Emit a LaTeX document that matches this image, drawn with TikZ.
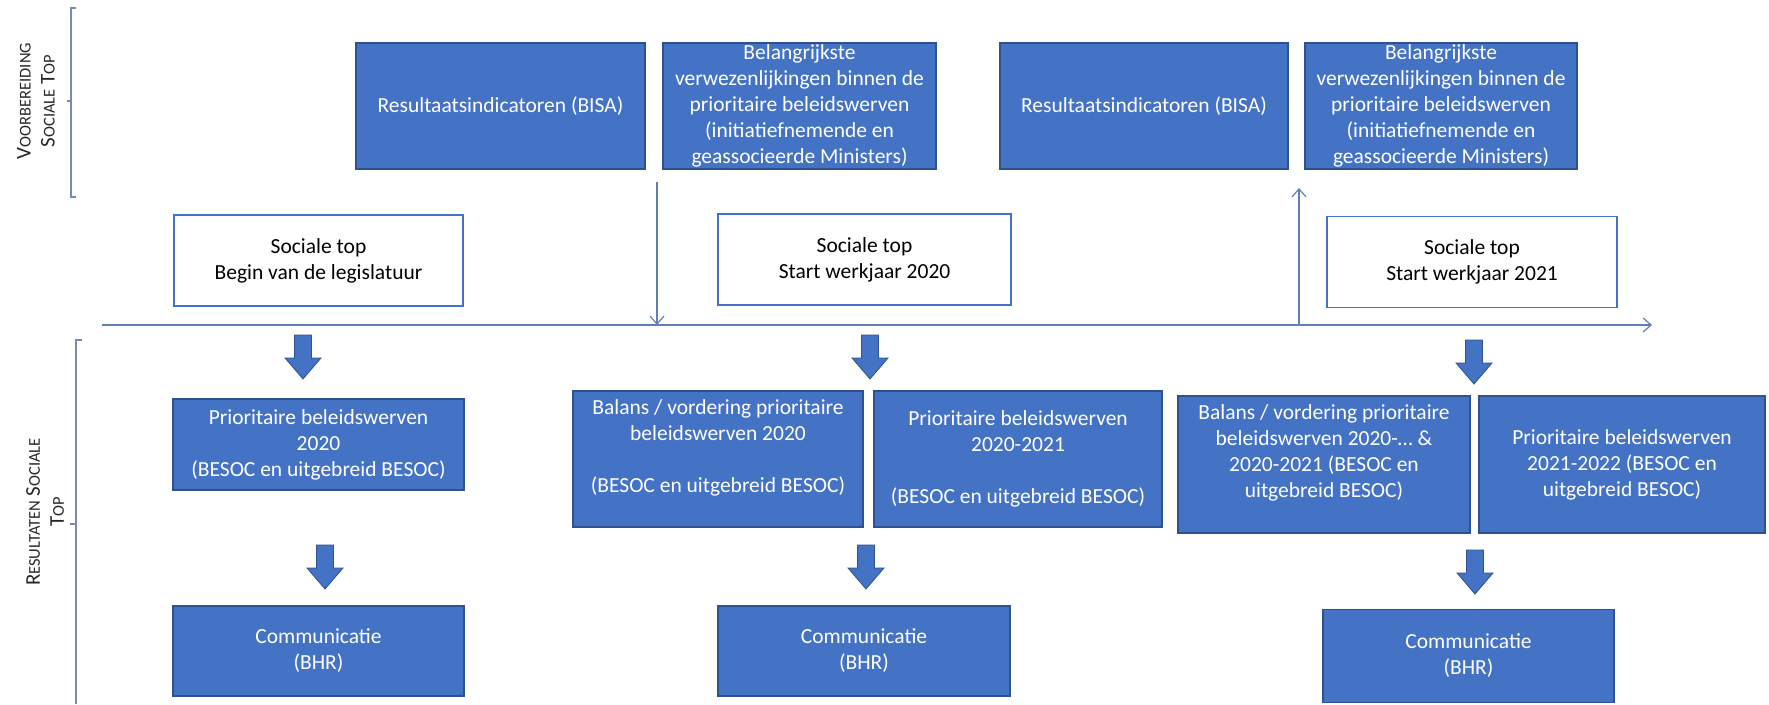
\documentclass[tikz,border=0pt]{standalone}
\usepackage{fontspec}
\setmainfont{Carlito}
\usetikzlibrary{arrows.meta}
\definecolor{boxblue}{HTML}{4472C4}
\definecolor{boxedge}{HTML}{2F528F}
\definecolor{linecol}{RGB}{96,128,180}
\definecolor{brackcol}{RGB}{120,140,170}
\newcommand{\smc}[1]{{\fontsize{16.5}{20}\selectfont #1}}
\tikzset{
  txt/.style={font=\fontsize{21.5}{26}\selectfont, align=center, inner sep=0pt},
  bluebox/.style={txt, draw=boxedge, fill=boxblue, text=white, line width=1.2pt},
  whitebox/.style={txt, draw=boxblue, fill=white, text=black, line width=1.8pt},
  tline/.style={draw=linecol, line width=1.3pt},
  barbend/.style={-{Straight Barb[length=8pt,width=14pt,line width=1.2pt]}},
  brack/.style={draw=brackcol, line width=1.1pt},
  sidelabel/.style={rotate=90, align=center, inner sep=0pt, text=black!85,
    font=\fontsize{21}{24}\selectfont},
  blockdown/.pic={\filldraw[fill=boxblue, draw=boxedge, line width=0.8pt]
    (-8.5,0) -- (8.5,0) -- (8.5,23) -- (18,23) -- (0,44) -- (-18,23) -- (-8.5,23) -- cycle;}
}
\begin{document}
\begin{tikzpicture}[x=1pt,y=-1pt]
\useasboundingbox (0,0) rectangle (1769,704);

% side brackets and labels
\draw[brack] (76,8) -- (71,8) -- (71,197) -- (76,197);
\draw[brack] (71,101) -- (67,101);
\draw[brack] (82,340) -- (76,340) -- (76,704);
\draw[brack] (76,524) -- (70,524);
\node[sidelabel] (lab1) at (36,101) {V\smc{OORBEREIDING}\\S\smc{OCIALE} T\smc{OP}};
\node[sidelabel] (lab2) at (45,512) {R\smc{ESULTATEN} S\smc{OCIALE}\\T\smc{OP}};

% top row
\node[bluebox, minimum width=289, minimum height=126] (R1) at (500.5,106) {Resultaatsindicatoren (BISA)};
\node[bluebox, minimum width=273, minimum height=126] (B1) at (799.5,106) {Belangrijkste\\verwezenlijkingen binnen de\\prioritaire beleidswerven\\(initiatiefnemende en\\geassocieerde Ministers)};
\node[bluebox, minimum width=288, minimum height=126] (R2) at (1144,106) {Resultaatsindicatoren (BISA)};
\node[bluebox, minimum width=272, minimum height=126] (B2) at (1441,106) {Belangrijkste\\verwezenlijkingen binnen de\\prioritaire beleidswerven\\(initiatiefnemende en\\geassocieerde Ministers)};

% social summit boxes
\node[whitebox, minimum width=289, minimum height=91] (S1) at (318.5,260.5) {Sociale top\\Begin van de legislatuur};
\node[whitebox, minimum width=293, minimum height=91] (S2) at (864.5,259.5) {Sociale top\\Start werkjaar 2020};
\node[whitebox, minimum width=290, minimum height=91] (S3) at (1472,262) {Sociale top\\Start werkjaar 2021};

% timeline and vertical connectors
\coordinate (tl0) at (102,325);
\coordinate (tl1) at (1652,325);
\draw[tline, barbend] (tl0) -- (tl1);
\coordinate (dn0) at (657,182);
\coordinate (dn1) at (657,325);
\draw[tline, barbend] (dn0) -- (dn1);
\coordinate (up0) at (1299,325);
\coordinate (up1) at (1299,188);
\draw[tline, barbend] (up0) -- (up1);

% block arrows row 1
\pic (A1) at (303,335) {blockdown};
\pic (A2) at (870,335) {blockdown};
\pic (A3) at (1474,340) {blockdown};

% results
\node[bluebox, minimum width=291, minimum height=91] (P1) at (318.5,444.5) {Prioritaire beleidswerven\\2020\\(BESOC en uitgebreid BESOC)};
\node[bluebox, minimum width=290, minimum height=136] (Bal1) at (718,459) {Balans / vordering prioritaire\\beleidswerven 2020\\[26pt](BESOC en uitgebreid BESOC)\\\mbox{}};
\node[bluebox, minimum width=288, minimum height=136] (P2) at (1018,459) {Prioritaire beleidswerven\\2020-2021\\[26pt](BESOC en uitgebreid BESOC)};
\node[bluebox, minimum width=292, minimum height=137] (Bal2) at (1324,464.5) {Balans / vordering prioritaire\\beleidswerven 2020-… \&\\2020-2021 (BESOC en\\uitgebreid BESOC)\\\mbox{}};
\node[bluebox, minimum width=286, minimum height=137] (P3) at (1622,464.5) {Prioritaire beleidswerven\\2021-2022 (BESOC en\\uitgebreid BESOC)};

% block arrows row 2
\pic (A4) at (325,545) {blockdown};
\pic (A5) at (866,545) {blockdown};
\pic (A6) at (1475,550) {blockdown};

% communication
\node[bluebox, minimum width=291, minimum height=90] (C1) at (318.5,651) {Communicatie\\(BHR)};
\node[bluebox, minimum width=292, minimum height=90] (C2) at (864,651) {Communicatie\\(BHR)};
\node[bluebox, minimum width=291, minimum height=93] (C3) at (1468.5,656) {Communicatie\\(BHR)};
\end{tikzpicture}
\end{document}
